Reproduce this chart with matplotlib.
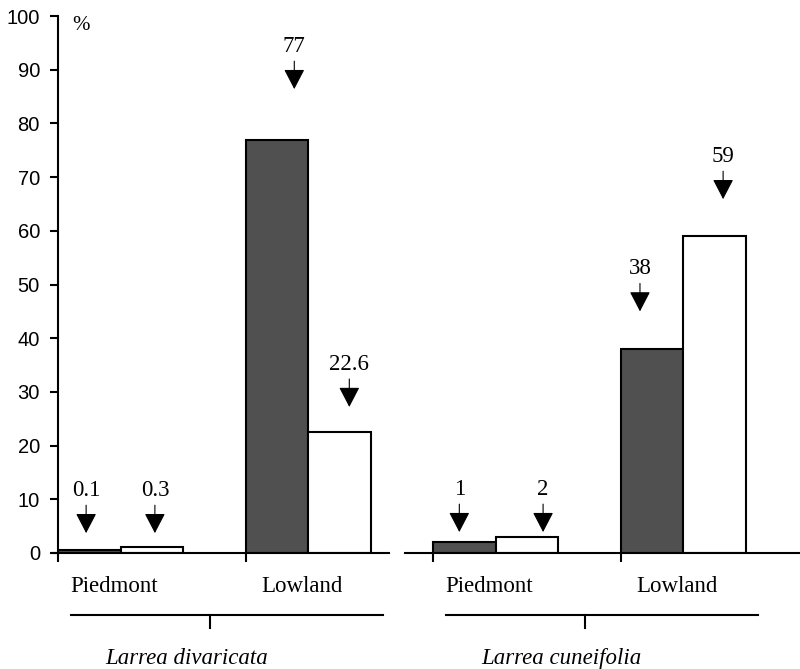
import matplotlib.pyplot as plt

# values (bar heights in %)
species = ['Larrea divaricata', 'Larrea cuneifolia']
sites = ['Piedmont', 'Lowland']
dark_values = [[0.6, 77.0], [2.0, 38.0]]
white_values = [[1.2, 22.6], [2.9, 59.0]]
dark_labels = [['0.1', '77'], ['1', '38']]
white_labels = [['0.3', '22.6'], ['2', '59']]
# where the arrow tips sit (%), and their sideways shift from bar centre
dark_tips = [[3.7, 86.4], [3.9, 45.0]]
white_tips = [[3.7, 27.2], [3.9, 65.9]]
dark_shift = [[-0.05, 0.28], [-0.08, -0.19]]
white_shift = [[0.05, 0.16], [0.26, 0.14]]

DARK = '#505050'
SERIF = 'Liberation Serif'
SANS = 'Liberation Sans'
FS = 16.5

fig = plt.figure(figsize=(8, 6.69), dpi=100)
ax = fig.add_axes([0.0725, 0.1734, 0.9275, 0.8026])


def arrow(ax, x, tip, label):
    ax.annotate('', xy=(x, tip), xytext=(x, tip + 5.2),
                arrowprops=dict(arrowstyle='-|>,head_length=1.25,head_width=0.65',
                                mutation_scale=10, lw=0.8, color='black',
                                shrinkA=0, shrinkB=0))
    ax.text(x, tip + 6.0, label, ha='center', va='bottom',
            fontsize=FS, family=SERIF)


for g, sp in enumerate(species):
    for s, site in enumerate(sites):
        start = g * 6 + s * 3
        ax.bar(start + 0.5, dark_values[g][s], width=1, color=DARK,
               edgecolor='black', linewidth=1.5)
        ax.bar(start + 1.5, white_values[g][s], width=1, color='white',
               edgecolor='black', linewidth=1.5)
        arrow(ax, start + 0.5 + dark_shift[g][s], dark_tips[g][s], dark_labels[g][s])
        arrow(ax, start + 1.5 + white_shift[g][s], white_tips[g][s], white_labels[g][s])
        ax.text(start + 0.9, -6.3, site, ha='center', va='center',
                fontsize=FS, family=SERIF, clip_on=False)
    # species bracket line
    g0 = g * 6
    ax.plot([g0 + 0.2, g0 + 5.2], [-11.5, -11.5], color='black', lw=1.5, clip_on=False)
    ax.plot([g0 + 2.43, g0 + 2.43], [-11.5, -14.0], color='black', lw=1.5, clip_on=False)
    ax.text(g0 + 2.05, -19.6, sp, ha='center', va='center', fontsize=FS,
            family=SERIF, style='italic', clip_on=False)

# broken x axis baseline
ax.plot([-0.1, 5.3], [0, 0], color='black', lw=1.5, clip_on=False, zorder=5)
ax.plot([5.55, 11.9], [0, 0], color='black', lw=1.5, clip_on=False, zorder=5)

ax.set_xlim(0, 11.87)
ax.set_ylim(0, 100)
ax.set_yticks(range(0, 101, 10))
ax.set_xticks([0, 3, 6, 9])
ax.set_xticklabels([])
ax.tick_params(axis='y', direction='out', length=6, width=1.5, labelsize=14.5, pad=7)
ax.tick_params(axis='x', direction='out', length=6.5, width=1.5)
for lbl in ax.get_yticklabels():
    lbl.set_family(SANS)
for side in ['top', 'right', 'bottom']:
    ax.spines[side].set_visible(False)
ax.spines['left'].set_linewidth(1.5)

ax.text(0.36, 98.2, '%', ha='center', va='center', fontsize=15, family=SERIF)

fig.savefig('out.png', dpi=100)
